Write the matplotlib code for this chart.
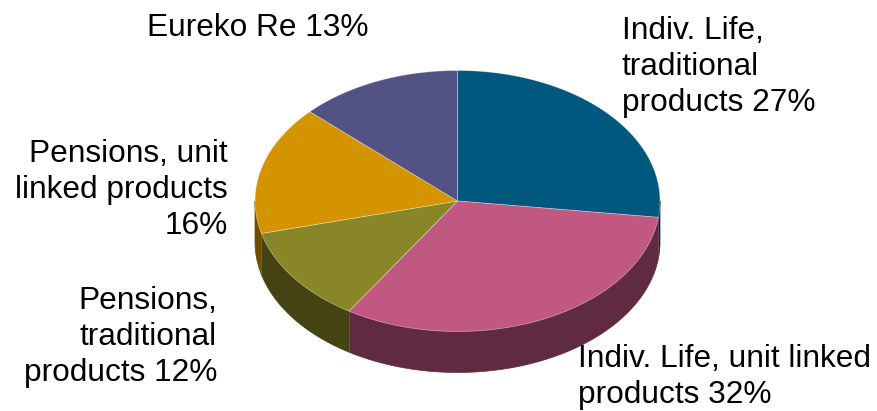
import numpy as np
import matplotlib
matplotlib.use("Agg")
import matplotlib.pyplot as plt
from matplotlib.patches import Polygon

# Portfolio split, clockwise from 12 o'clock
labels = [
    "Indiv. Life,\ntraditional\nproducts 27%",
    "Indiv. Life, unit linked\nproducts 32%",
    "Pensions,\ntraditional\nproducts 12%",
    "Pensions, unit\nlinked products\n16%",
    "Eureko Re 13%",
]
shares = [27, 32, 12, 16, 13]
top_colors = ["#00587F", "#C15882", "#888627", "#D39400", "#535284"]
side_colors = ["#002C42", "#5F2A42", "#454213", "#6E4C00", "#2A2942"]

plt.rcParams["font.family"] = ["Liberation Sans", "DejaVu Sans"]

W, H = 877, 411
fig = plt.figure(figsize=(W / 100, H / 100), dpi=100)
ax = fig.add_axes([0, 0, 1, 1])
ax.set_xlim(0, W)
ax.set_ylim(H, 0)
ax.axis("off")

cx, cy = 457.5, 201.0     # ellipse centre
rx, ry = 202.5, 130.5     # ellipse radii
depth = 41.0              # thickness of the disc


def rim(t_deg, dy=0.0):
    t = np.radians(t_deg)
    return np.column_stack([cx + rx * np.cos(t), cy - ry * np.sin(t) + dy])


total = float(sum(shares))
starts, ends = [], []
a = 90.0
for s in shares:
    b = a - 360.0 * s / total
    starts.append(a)
    ends.append(b)
    a = b

# front wall (visible for angles between -180 and 0)
for a0, a1, col in zip(starts, ends, side_colors):
    lo, hi = max(a1, -180.0), min(a0, 0.0)
    if hi <= lo:
        continue
    t = np.linspace(hi, lo, 120)
    top = rim(t)
    bot = rim(t[::-1], depth)
    ax.add_patch(Polygon(np.vstack([top, bot]), closed=True,
                         facecolor=col, edgecolor=col, lw=0.5, zorder=1))

# slice boundaries on the wall
for a1 in ends:
    if -180.0 < a1 < 0.0:
        p = rim([a1])[0]
        ax.plot([p[0], p[0]], [p[1], p[1] + depth], color="#8a8a8a",
                lw=0.4, alpha=0.6, zorder=2)

# top face
for a0, a1, col in zip(starts, ends, top_colors):
    t = np.linspace(a0, a1, 200)
    pts = np.vstack([[cx, cy], rim(t)])
    ax.add_patch(Polygon(pts, closed=True, facecolor=col,
                         edgecolor=(1, 1, 1, 0.35), lw=0.6, zorder=3))

fs = 22.8
ls = 1.24
ax.text(258, 28, labels[4], fontsize=fs, ha="center", va="center")
ax.text(622, 67, labels[0], fontsize=fs, ha="left", va="center",
        linespacing=ls)
ax.text(228, 190, labels[3], fontsize=fs, ha="right", va="center",
        linespacing=ls)
ax.text(217, 337, labels[2], fontsize=fs, ha="right", va="center",
        linespacing=ls)
ax.text(578, 377, labels[1], fontsize=fs, ha="left", va="center",
        linespacing=ls)

fig.savefig("out.png", dpi=100, facecolor="white")
